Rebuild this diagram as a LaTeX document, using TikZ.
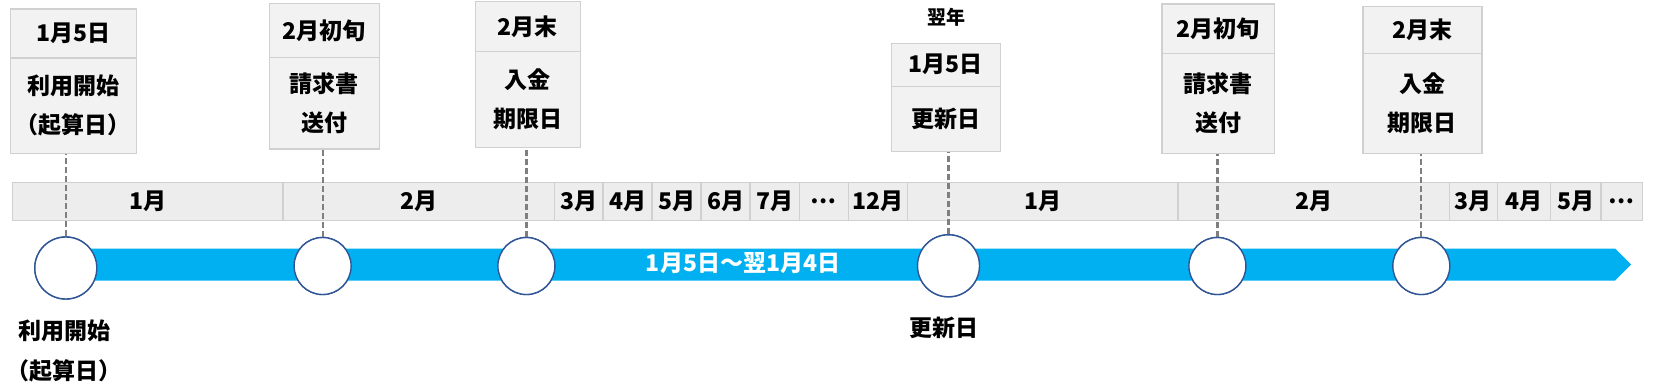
\documentclass[tikz,border=0pt]{standalone}
\usepackage{fontspec}
\setmainfont{Noto Sans CJK JP}
\definecolor{boxfill}{HTML}{F2F2F2}
\definecolor{boxline}{HTML}{D0D0D0}
\definecolor{cellfill}{HTML}{EDEDED}
\definecolor{cellline}{HTML}{D0D0D0}
\definecolor{bandblue}{HTML}{00B0F0}
\definecolor{ringblue}{HTML}{2F5597}
\definecolor{leadgray}{HTML}{7F7F7F}
\begin{document}
\begin{tikzpicture}[x=1pt,y=-1pt,
  lbl/.style={font=\fontsize{23}{39}\selectfont\bfseries, text=black, align=center},
  datebox/.style={draw=boxline, fill=boxfill, line width=1.3pt, inner sep=0pt, anchor=north west, lbl},
  cell/.style={draw=cellline, fill=cellfill, line width=1.2pt, inner sep=0pt, anchor=north west, minimum height=38.3pt, lbl},
  dot/.style={circle, draw=ringblue, fill=white, line width=1.4pt, inner sep=0pt},
  leader/.style={draw=leadgray, line width=2.2pt, dash pattern=on 6pt off 3pt},
]
\useasboundingbox (0,0) rectangle (1656,389);

% month bar
\node[cell, minimum width=270.9pt] (m1) at (11.5,181.5) {1月};
\node[cell, minimum width=271.4pt] (m2) at (282.4,181.5) {2月};
\node[cell, minimum width=48.6pt] (m3) at (553.8,181.5) {3月};
\node[cell, minimum width=49pt] (m4) at (602.4,181.5) {4月};
\node[cell, minimum width=49pt] (m5) at (651.4,181.5) {5月};
\node[cell, minimum width=49pt] (m6) at (700.4,181.5) {6月};
\node[cell, minimum width=49.4pt] (m7) at (749.4,181.5) {7月};
\node[cell, minimum width=48.9pt] (m8) at (798.8,181.5) {…};
\node[cell, minimum width=59pt] (m9) at (847.7,181.5) {12月};
\node[cell, minimum width=270.6pt] (m10) at (906.7,181.5) {1月};
\node[cell, minimum width=271.3pt] (m11) at (1177.3,181.5) {2月};
\node[cell, minimum width=47.9pt] (m12) at (1448.6,181.5) {3月};
\node[cell, minimum width=53.1pt] (m13) at (1496.5,181.5) {4月};
\node[cell, minimum width=50.8pt] (m14) at (1549.6,181.5) {5月};
\node[cell, minimum width=41.4pt] (m15) at (1600.4,181.5) {…};

% boxes
\node[datebox, minimum width=126.4pt, minimum height=48.6pt] (Atop) at (9.6,8.4) {1月5日};
\node[datebox, minimum width=126.4pt, minimum height=95.3pt] (Alow) at (9.6,57.4) {利用開始\\（起算日）};
\node[datebox, minimum width=109.8pt, minimum height=54.3pt] (Btop) at (268.7,2.7) {2月初旬};
\node[datebox, minimum width=109.8pt, minimum height=91.3pt] (Blow) at (268.7,57) {請求書\\送付};
\node[datebox, minimum width=105.2pt, minimum height=50.3pt] (Ctop) at (474.6,0.7) {2月末};
\node[datebox, minimum width=105.2pt, minimum height=96pt] (Clow) at (474.6,51) {入金\\期限日};
\node[datebox, minimum width=109.1pt, minimum height=43pt] (Dtop) at (890.6,42.6) {1月5日};
\node[datebox, minimum width=109.1pt, minimum height=65.4pt] (Dlow) at (890.6,85.6) {更新日};
\node[datebox, minimum width=112.5pt, minimum height=49.3pt] (Etop) at (1161.3,3.4) {2月初旬};
\node[datebox, minimum width=112.5pt, minimum height=100pt] (Elow) at (1161.3,52.7) {請求書\\送付};
\node[datebox, minimum width=118.8pt, minimum height=46.7pt] (Ftop) at (1362.4,6) {2月末};
\node[datebox, minimum width=118.8pt, minimum height=100pt] (Flow) at (1362.4,52.7) {入金\\期限日};
\node[font=\fontsize{19}{22}\selectfont\bfseries] (yoku) at (946,17.5) {翌年};

% circles (positions)
\node[dot, minimum size=62pt] (cA) at (65.8,268) {};
\node[dot, minimum size=57pt] (cB) at (322.6,266) {};
\node[dot, minimum size=57pt] (cC) at (526.4,266) {};
\node[dot, minimum size=62pt] (cD) at (948.5,265.8) {};
\node[dot, minimum size=57pt] (cE) at (1217.4,266) {};
\node[dot, minimum size=57pt] (cF) at (1421.3,266) {};
\coordinate (tip) at (1631,264.5);

% leaders
\draw[leader] (cA.north) -- (cA.north |- Alow.south);
\draw[leader] (cB.north) -- (cB.north |- Blow.south);
\draw[leader] (cC.north) -- (cC.north |- Clow.south);
\draw[leader] (cD.north) -- (cD.north |- Dlow.south);
\draw[leader] (cE.north) -- (cE.north |- Elow.south);
\draw[leader] (cF.north) -- (cF.north |- Flow.south);

% band
\fill[bandblue] (cA.center |- 0,248.5) -- (1615,248.5) -- (tip) -- (1615,280.5) -- (cA.center |- 0,280.5) -- cycle;

% redraw circles on top
\foreach \c/\s in {cA/62,cB/57,cC/57,cD/62,cE/57,cF/57}
  \node[dot, minimum size=\s pt] at (\c) {};

\node[lbl, text=white] (period) at (743,263.4) {1月5日～翌1月4日};
\node[lbl, font=\fontsize{23}{40.5}\selectfont\bfseries] (lA) at (64,350.7) {利用開始\\（起算日）};
\node[lbl] (lD) at (944,328) {更新日};
\end{tikzpicture}
\end{document}
